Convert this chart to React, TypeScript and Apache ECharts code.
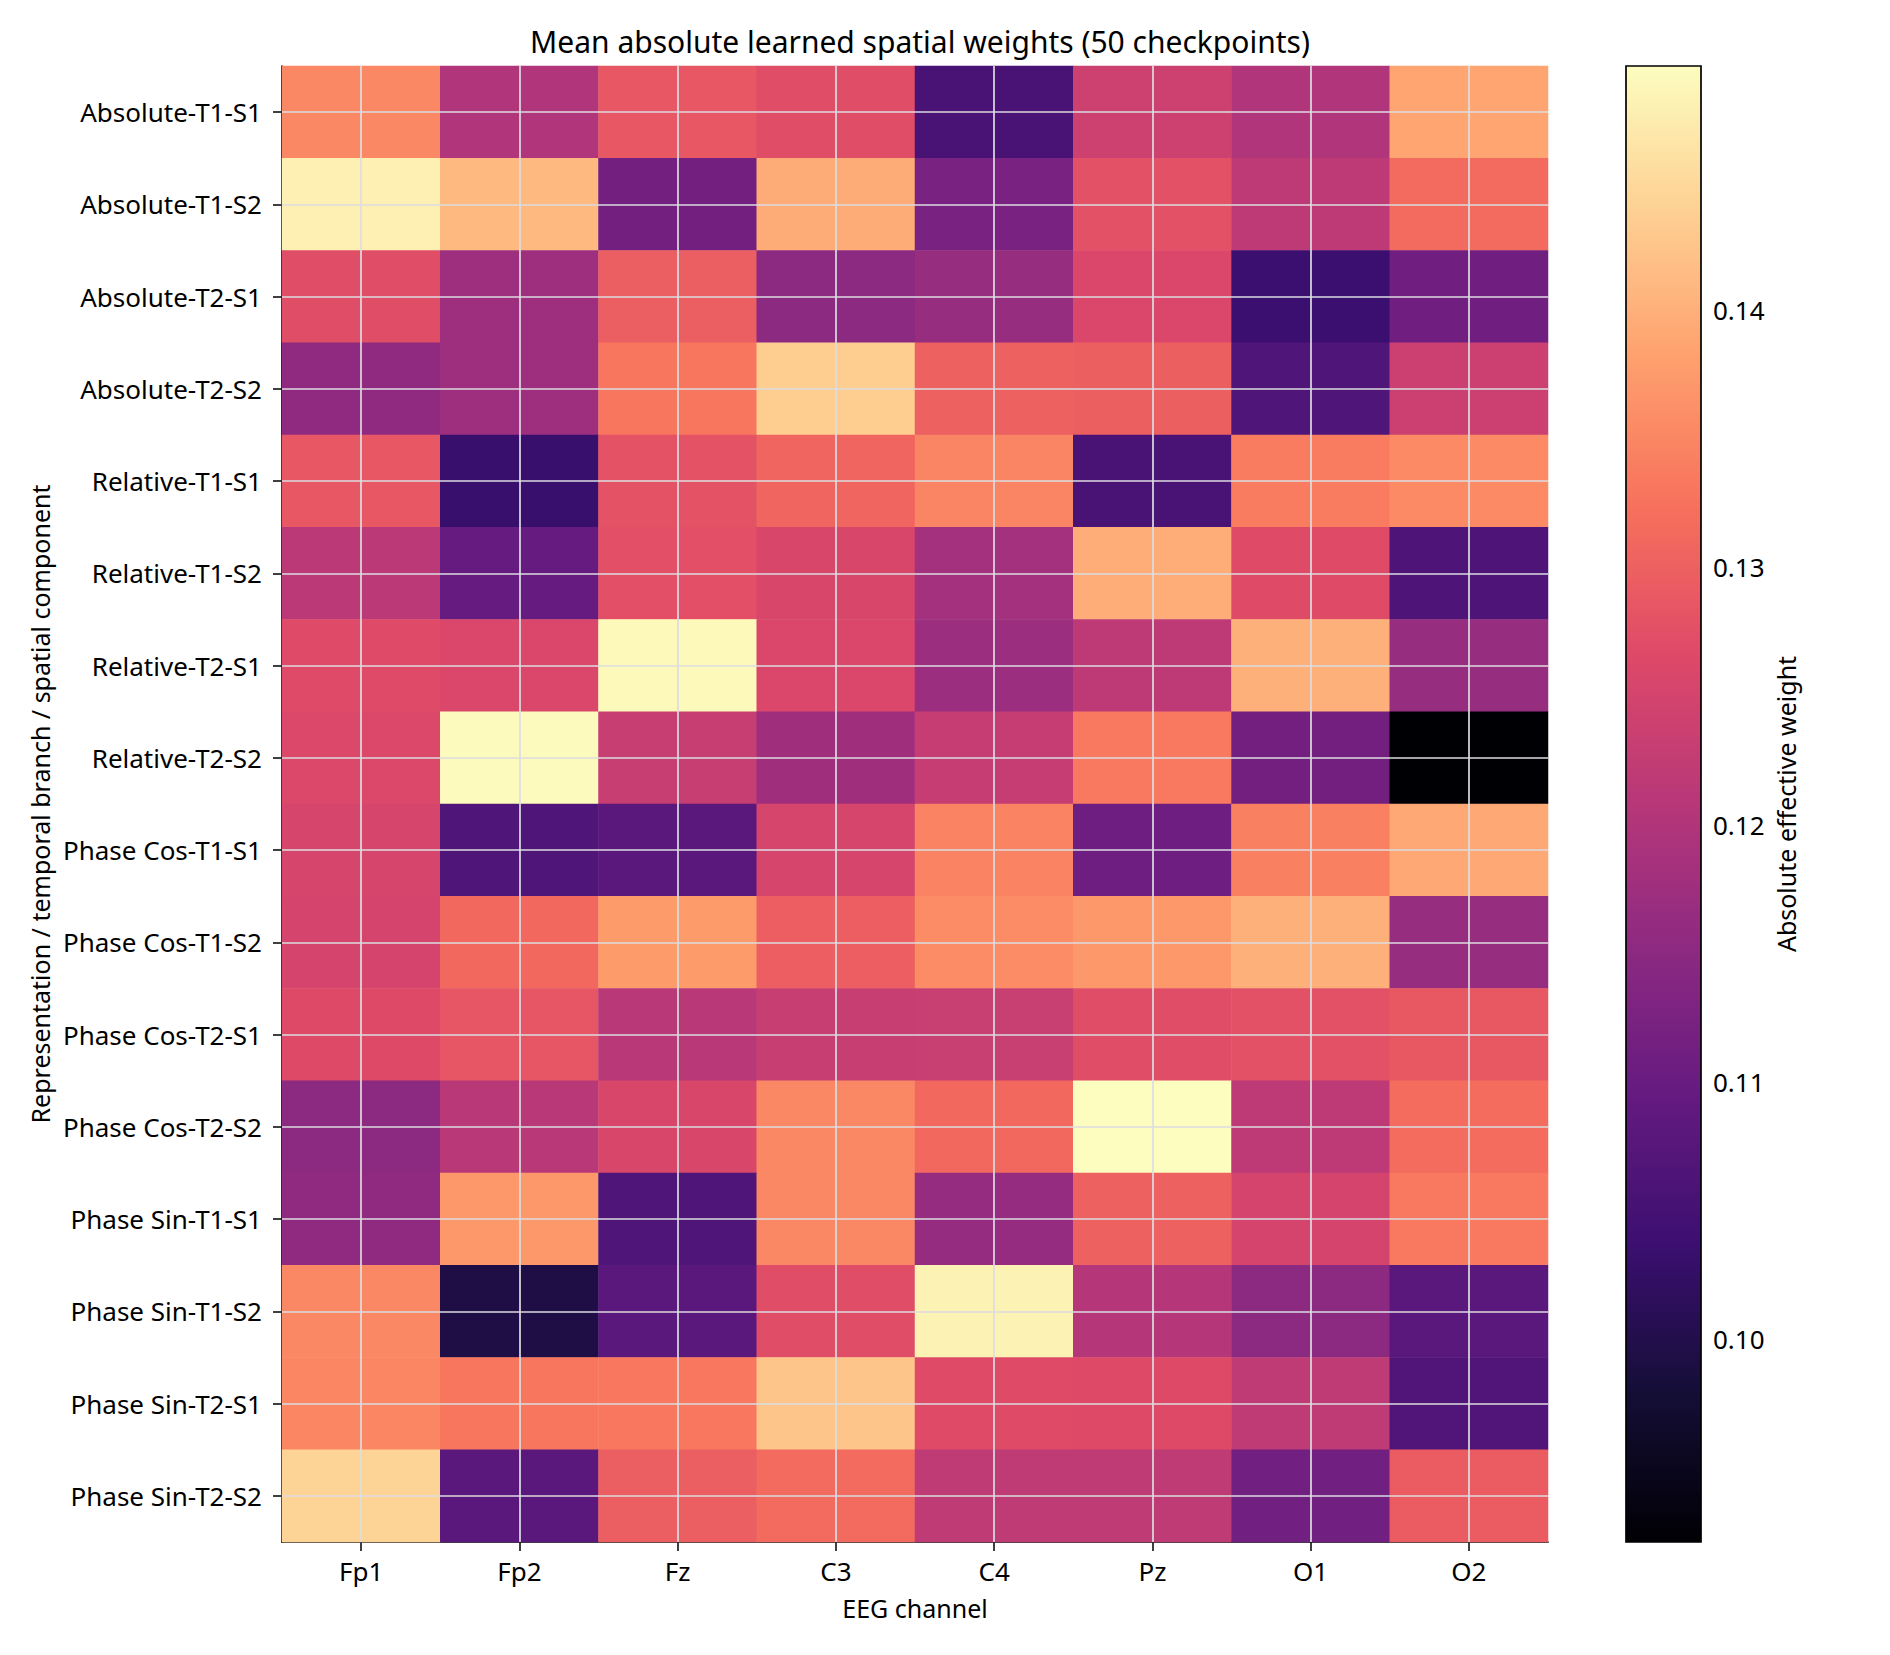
import React, { useEffect, useRef } from "react";
import * as echarts from "echarts";

const channels = ["Fp1", "Fp2", "Fz", "C3", "C4", "Pz", "O1", "O2"];
const rows = [
  "Absolute-T1-S1", "Absolute-T1-S2", "Absolute-T2-S1", "Absolute-T2-S2",
  "Relative-T1-S1", "Relative-T1-S2", "Relative-T2-S1", "Relative-T2-S2",
  "Phase Cos-T1-S1", "Phase Cos-T1-S2", "Phase Cos-T2-S1", "Phase Cos-T2-S2",
  "Phase Sin-T1-S1", "Phase Sin-T1-S2", "Phase Sin-T2-S1", "Phase Sin-T2-S2",
];

// values per row, channel order Fp1, Fp2, Fz, C3, C4, Pz, O1, O2
const absT1S1 = [0.1352, 0.1199, 0.1286, 0.1271, 0.1056, 0.1239, 0.1199, 0.1387];
const absT1S2 = [0.1479, 0.1411, 0.1113, 0.1396, 0.1125, 0.1277, 0.1217, 0.1314];
const absT2S1 = [0.1271, 0.1175, 0.1296, 0.1151, 0.1165, 0.1260, 0.1036, 0.1110];
const absT2S2 = [0.1156, 0.1175, 0.1329, 0.1435, 0.1300, 0.1298, 0.1065, 0.1237];
const relT1S1 = [0.1286, 0.1033, 0.1280, 0.1306, 0.1349, 0.1056, 0.1337, 0.1354];
const relT1S2 = [0.1214, 0.1096, 0.1274, 0.1257, 0.1182, 0.1397, 0.1268, 0.1062];
const relT2S1 = [0.1267, 0.1259, 0.1490, 0.1259, 0.1171, 0.1217, 0.1400, 0.1165];
const relT2S2 = [0.1261, 0.1492, 0.1231, 0.1176, 0.1228, 0.1334, 0.1113, 0.0921];
const cosT1S1 = [0.1254, 0.1065, 0.1079, 0.1254, 0.1346, 0.1108, 0.1343, 0.1392];
const cosT1S2 = [0.1251, 0.1311, 0.1375, 0.1297, 0.1357, 0.1372, 0.1400, 0.1165];
const cosT2S1 = [0.1265, 0.1285, 0.1211, 0.1231, 0.1233, 0.1271, 0.1277, 0.1288];
const cosT2S2 = [0.1151, 0.1211, 0.1257, 0.1352, 0.1311, 0.1495, 0.1219, 0.1317];
const sinT1S1 = [0.1156, 0.1372, 0.1065, 0.1352, 0.1162, 0.1300, 0.1251, 0.1334];
const sinT1S2 = [0.1352, 0.0993, 0.1079, 0.1271, 0.1481, 0.1205, 0.1151, 0.1079];
const sinT2S1 = [0.1350, 0.1330, 0.1331, 0.1426, 0.1268, 0.1266, 0.1220, 0.1067];
const sinT2S2 = [0.1443, 0.1079, 0.1296, 0.1314, 0.1220, 0.1220, 0.1112, 0.1294];

const rowValues = [
  absT1S1, absT1S2, absT2S1, absT2S2,
  relT1S1, relT1S2, relT2S1, relT2S2,
  cosT1S1, cosT1S2, cosT2S1, cosT2S2,
  sinT1S1, sinT1S2, sinT2S1, sinT2S2,
];

const colorbarTicks = [0.10, 0.11, 0.12, 0.13, 0.14];

const magma = [
  "#000004", "#140e36", "#3b0f70", "#641a80", "#8c2981", "#b73779",
  "#de4968", "#f7705c", "#fe9f6d", "#fecf92", "#fcfdbf",
];

const FONT = "Noto Sans";
const LABEL_SIZE = 26;
const NAME_SIZE = 25;

export default function App() {
  const ref = useRef<HTMLDivElement>(null);

  useEffect(() => {
    document.body.style.margin = "0";
    if (!ref.current) return;
    const chart = echarts.init(ref.current, null, { renderer: "svg" });

    const all = rowValues.flat();
    const vmin = Math.min(...all);
    const vmax = Math.max(...all);

    const heatData: [number, number, number][] = [];
    rowValues.forEach((vals, r) => {
      vals.forEach((v, c) => heatData.push([c, r, v]));
    });

    const gridColor = "#dcdde1";
    const txt = { fontFamily: FONT, fontSize: LABEL_SIZE, color: "#000" };
    const nameTxt = { fontFamily: FONT, fontSize: NAME_SIZE, color: "#000" };

    const option: any = {
      animation: false,
      backgroundColor: "#ffffff",
      textStyle: { fontFamily: FONT, color: "#000" },
      title: {
        text: "Mean absolute learned spatial weights (50 checkpoints)",
        left: 915,
        top: 21,
        textAlign: "center",
        textStyle: { fontFamily: FONT, fontSize: 30, fontWeight: "normal", color: "#000" },
      },
      grid: [
        { left: 282, top: 66, width: 1266, height: 1476, containLabel: false },
        { left: 1626, top: 66, width: 75, height: 1476, containLabel: false },
      ],
      xAxis: [
        {
          type: "category",
          gridIndex: 0,
          data: channels,
          position: "bottom",
          axisLine: { show: true, lineStyle: { color: "#000", width: 1.7 } },
          axisTick: { show: true, alignWithLabel: true, length: 9, lineStyle: { color: "#000", width: 1.5 } },
          axisLabel: { ...txt, margin: 16 },
          splitLine: { show: false },
          name: "EEG channel",
          nameLocation: "middle",
          nameGap: 53,
          nameTextStyle: nameTxt,
        },
        {
          type: "value",
          gridIndex: 1,
          min: 0,
          max: 1,
          show: false,
        },
      ],
      yAxis: [
        {
          type: "category",
          gridIndex: 0,
          data: rows,
          inverse: true,
          axisLine: { show: true, lineStyle: { color: "#000", width: 1.7 } },
          axisTick: { show: true, alignWithLabel: true, length: 9, lineStyle: { color: "#000", width: 1.5 } },
          axisLabel: { ...txt, margin: 20 },
          splitLine: { show: false },
          name: "Representation / temporal branch / spatial component",
          nameLocation: "middle",
          nameRotate: 90,
          nameGap: 224,
          nameTextStyle: nameTxt,
        },
        {
          type: "value",
          gridIndex: 1,
          min: vmin,
          max: vmax,
          position: "right",
          axisLine: { show: false },
          axisTick: {
            show: true,
            length: 9,
            customValues: colorbarTicks,
            lineStyle: { color: "#000", width: 1.5 },
          },
          axisLabel: {
            show: true,
            customValues: colorbarTicks,
            formatter: (v: number) => v.toFixed(2),
            ...txt,
            margin: 12,
          },
          splitLine: { show: false },
          name: "Absolute effective weight",
          nameLocation: "middle",
          nameRotate: 90,
          nameGap: 72,
          nameTextStyle: nameTxt,
        },
      ],
      visualMap: {
        show: false,
        type: "continuous",
        seriesIndex: 0,
        min: vmin,
        max: vmax,
        dimension: 2,
        inRange: { color: magma },
      },
      series: [
        {
          type: "heatmap",
          xAxisIndex: 0,
          yAxisIndex: 0,
          data: heatData,
          itemStyle: { borderWidth: 0 },
          emphasis: { disabled: true },
          markLine: {
            silent: true,
            symbol: ["none", "none"],
            label: { show: false },
            emphasis: { disabled: true },
            lineStyle: { color: gridColor, width: 1.7, type: "solid", opacity: 1 },
            data: [
              ...channels.map((c) => ({ xAxis: c })),
              ...rows.map((r) => ({ yAxis: r })),
            ],
          },
        },
        {
          type: "custom",
          xAxisIndex: 1,
          yAxisIndex: 1,
          silent: true,
          data: [[0, vmin, vmax]],
          renderItem: (params: any, api: any) => {
            const cs = params.coordSys;
            const top = api.coord([0, api.value(2)])[1];
            const bottom = api.coord([0, api.value(1)])[1];
            const stops = magma.map((c, i) => ({ offset: i / (magma.length - 1), color: c }));
            return {
              type: "group",
              children: [
                {
                  type: "rect",
                  shape: { x: cs.x, y: top, width: cs.width, height: bottom - top },
                  style: {
                    fill: { type: "linear", x: 0, y: 1, x2: 0, y2: 0, colorStops: stops },
                    stroke: "none",
                  },
                },
                {
                  type: "rect",
                  shape: { x: cs.x, y: top, width: cs.width, height: bottom - top },
                  style: { fill: "none", stroke: "#000", lineWidth: 1.7 },
                  z2: 10,
                },
              ],
            };
          },
        },
      ],
    };

    chart.setOption(option);
    return () => chart.dispose();
  }, []);

  return <div ref={ref} style={{ width: 1890, height: 1655 }} />;
}
